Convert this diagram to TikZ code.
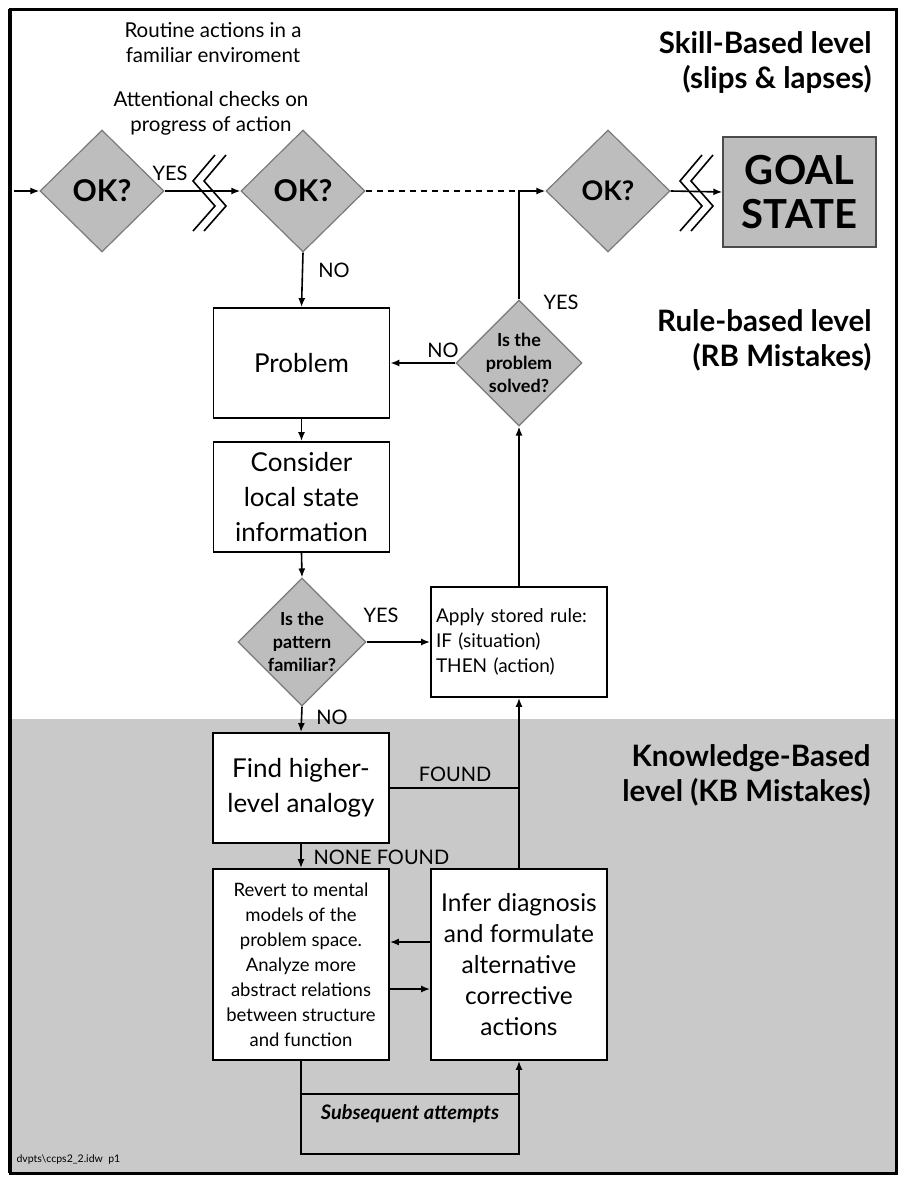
\documentclass[tikz,border=0pt]{standalone}
\usepackage{fontspec}
\setmainfont{Lato}
\usetikzlibrary{shapes.geometric,arrows.meta,calc}
\definecolor{bggray}{HTML}{C9C9C9}
\definecolor{diagray}{HTML}{BDBDBD}
\definecolor{diaedge}{HTML}{7A7A7A}
\newcommand{\fs}[2]{\fontsize{#1}{#2}\selectfont}
\tikzset{
  conn/.style={line width=1.6pt},
  arr/.style={conn,-{Latex[length=9pt,width=7pt]}},
  stepbox/.style={draw,line width=1.8pt,fill=white,inner sep=2pt,align=center,minimum width=176pt},
  dia/.style={diamond,draw=diaedge,fill=diagray,line width=1.2pt,inner sep=0pt,align=center,minimum width=124pt,minimum height=122pt},
  lbl/.style={font=\fs{20}{22}},
  head/.style={font=\bfseries\fs{29.5}{35},align=right,anchor=east},
  brk/.style={line width=1.6pt}
}
\begin{document}
\begin{tikzpicture}[x=1pt,y=-1pt]
\useasboundingbox (0,0) rectangle (902,1178);
\fill[white] (0,0) rectangle (902,1178);
\fill[bggray] (10,719) rectangle (896,1173);
\draw[line width=3pt] (10,9) rectangle (896,1173);
\draw[line width=4.5pt] (10,9) -- (10,1173);

% texts at top
\node[font=\fs{20.5}{25},align=center] (t1) at (213,43) {Routine actions in a\\familiar enviroment};
\node[font=\fs{20.5}{25},align=center] (t2) at (211,113) {Attentional checks on\\progress of action};
\node[head] (h1) at (875,63) {Skill-Based level\\(slips \& lapses)};
\node[head] (h2) at (875,340) {Rule-based level\\(RB Mistakes)};
\node[head] (h3) at (874,775) {Knowledge-Based\\level (KB Mistakes)};

% skill level row
\node[dia,font=\bfseries\fs{30}{32}] (d1) at (102,191) {OK?};
\node[dia,font=\bfseries\fs{30}{32}] (d2) at (303,191) {OK?};
\node[dia,font=\bfseries\fs{27}{30}] (d3) at (608,191) {OK?};
\node[draw=black!70,fill=diagray,line width=1.4pt,minimum width=153pt,minimum height=110pt,align=center,font=\bfseries\fs{40}{44}] (goal) at (799.5,192) {GOAL\\STATE};
\coordinate (start) at (14,191);
\coordinate (j) at (519,191);

% rule level
\node[stepbox,minimum height=110pt,font=\fs{26}{35}] (prob) at (301.5,363) {Problem};
\node[stepbox,minimum height=110pt,font=\fs{26}{35}] (cons) at (301.5,497) {Consider\\local state\\information};
\node[dia,font=\bfseries\fs{18}{23}] (dpat) at (302,642) {Is the\\pattern\\familiar?};
\node[stepbox,minimum height=110pt,font=\fs{19}{25},align=left,text width=166pt] (apply) at (519,642) {Apply stored rule:\\IF (situation)\\THEN (action)};
\node[dia,minimum width=122pt,font=\bfseries\fs{18}{23}] (dsolv) at (519,363) {Is the\\problem\\solved?};

% knowledge level
\node[stepbox,minimum height=110pt,font=\fs{26}{35}] (find) at (301,788) {Find higher-\\level analogy};
\node[stepbox,minimum height=191pt,font=\fs{18.5}{25}] (revert) at (301,964.5) {Revert to mental\\models of the\\problem space.\\Analyze more\\abstract relations\\between structure\\and function};
\node[stepbox,minimum height=191pt,font=\fs{24.5}{31}] (infer) at (519,964.5) {Infer diagnosis\\and formulate\\alternative\\corrective\\actions};

% connectors
\draw[arr] (start) -- (d1.west);
\draw[arr] (d1.east) -- (d2.west);
\draw[conn,dash pattern=on 6pt off 5pt] (d2.east) -- (j);
\draw[arr] (dsolv.north) -- (j) -- (d3.west);
\draw[arr] (d3.east) -- (goal.west);
\draw[arr] (d2.south) -- (prob.north);
\draw[arr] (prob.south) -- (cons.north);
\draw[arr] (cons.south) -- (dpat.north);
\draw[arr] (dpat.east) -- (apply.west);
\draw[arr] (apply.north) -- (dsolv.south);
\draw[arr] (dsolv.west) -- (prob.east);
\draw[arr] (dpat.south) -- (find.north);
\draw[conn] (find.east) -- (find.east -| infer.north);
\draw[arr] (infer.north) -- (apply.south);
\draw[arr] (find.south) -- (revert.north);
\draw[arr] ([yshift=22.5pt]infer.west) -- ([yshift=22.5pt]revert.east);
\draw[arr] ([yshift=-24.5pt]revert.east) -- ([yshift=-24.5pt]infer.west);
\coordinate (lb) at ($(revert.south)+(0,93)$);
\coordinate (lm) at ($(revert.south)+(0,33)$);
\draw[arr] (revert.south) -- (lb) -| (infer.south);
\draw[conn] (lm) -- (lm -| infer.south);
\node[font=\bfseries\itshape\fs{20}{22}] (sub) at (410,1114) {Subsequent attempts};

% break symbols
\foreach \bx in {193,680}{
  \draw[brk] (\bx+22,155) -- (\bx,181) -- (\bx+22,206) -- (\bx,231);
  \draw[brk] (\bx+33,155) -- (\bx+11,181) -- (\bx+33,206) -- (\bx+11,231);
}

% labels
\node[lbl] (yes1) at (170,173) {YES};
\node[lbl] (no1) at (334,270) {NO};
\node[lbl] (yes2) at (561,302) {YES};
\node[lbl] (no2) at (443,350) {NO};
\node[lbl] (yes3) at (381,615) {YES};
\node[lbl] (no3) at (332,717) {NO};
\node[lbl] (found) at (455,774) {FOUND};
\node[lbl,anchor=west] (nfound) at (310,857) {NONE FOUND};
\node[font=\fs{10.5}{12},anchor=west] (foot) at (13,1160) {dvpts\textbackslash ccps2\_2.idw\ \ p1};
\end{tikzpicture}
\end{document}
